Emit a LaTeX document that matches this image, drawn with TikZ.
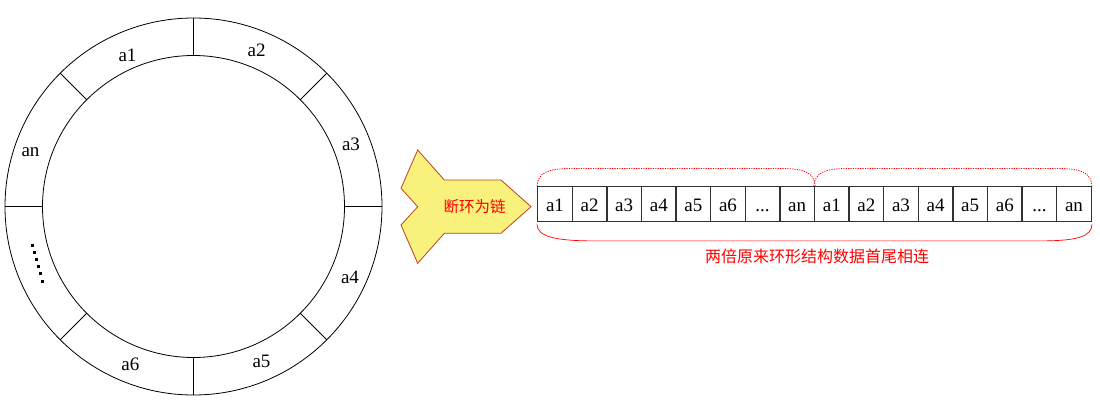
\documentclass[tikz,border=0pt]{standalone}
\usepackage{fontspec}
\usetikzlibrary{calc}
\setmainfont{Liberation Serif}
\newfontfamily\cjk{Noto Sans CJK SC}
\definecolor{arrowfill}{RGB}{248,242,125}
\definecolor{arrowline}{RGB}{192,64,30}
\definecolor{boxline}{RGB}{50,50,50}
\newcommand\celldots{...}
\begin{document}
\begin{tikzpicture}[x=1pt,y=-1pt,
  ringline/.style={draw=black,line width=0.8pt},
  lab/.style={anchor=base,inner sep=0pt,font=\fontsize{19pt}{20pt}\selectfont},
  cell/.style={draw=boxline,line width=1.3pt,minimum width=34.6pt,minimum height=35pt,
    inner sep=0pt,text height=13.6pt,text depth=0pt,font=\fontsize{19pt}{20pt}\selectfont},
  redtxt/.style={text=red,inner sep=0pt},
  dotbrace/.style={draw=red,line width=0.8pt,dash pattern=on 1.2pt off 1.2pt},
  solidbrace/.style={draw=red,line width=0.7pt}
]
\useasboundingbox (0,0) rectangle (1100,412);
% ring
\coordinate (c) at (193.5,206.5);
\draw[ringline] (c) circle[radius=188.5pt];
\draw[ringline] (c) circle[radius=151pt];
\foreach \a in {0,45,...,315}{
  \draw[ringline] ($(c)+(\a:151)$) -- ($(c)+(\a:188.5)$);
}
\node[lab] (r1) at (127.5,61.7) {a1};
\node[lab] (r2) at (256.7,56.7) {a2};
\node[lab] (r3) at (351,150.7) {a3};
\node[lab] (r4) at (350,283) {a4};
\node[lab] (r5) at (261.5,367.7) {a5};
\node[lab] (r6) at (130.3,370) {a6};
\node[lab] (rn) at (30.5,156.7) {an};
\foreach \i in {0,1,2,3,4,5}{
  \fill[black] ($(32.3,245.7)!\i/5!(42.3,281)+(-1.5,-1.5)$) rectangle ++(3,3);
}
% arrow shape
\draw[fill=arrowfill,draw=arrowline,line width=0.8pt,line join=miter]
  (417.7,150) -- (444.3,180) -- (501,180) -- (531,206.7) -- (501,233.3)
  -- (444.3,233.3) -- (417.7,263.3) -- (401,225) -- (417.7,206.7)
  -- (401,188.3) -- cycle;
\node[redtxt,font=\cjk\fontsize{15.5pt}{17pt}\selectfont] (brk) at (474.5,207) {断环为链};
% cells
\foreach \t [count=\i] in {a1,a2,a3,a4,a5,a6,\celldots,an,a1,a2,a3,a4,a5,a6,\celldots,an}{
  \node[cell] (b\i) at ({537.7+34.6*(\i-0.5)},204.2) {\t};
}
% dotted braces on top
\draw[dotbrace] (b1.north west) .. controls ($(b1.north west)+(1,-13)$) and ($(b1.north west)+(10,-17)$) .. ($(b1.north west)+(30,-17.5)$)
  -- ($(b8.north east)+(-30,-17.5)$) .. controls ($(b8.north east)+(-10,-17)$) and ($(b8.north east)+(-1,-13)$) .. (b8.north east);
\draw[dotbrace] (b9.north west) .. controls ($(b9.north west)+(1,-13)$) and ($(b9.north west)+(10,-17)$) .. ($(b9.north west)+(30,-17.5)$)
  -- ($(b16.north east)+(-30,-17.5)$) .. controls ($(b16.north east)+(-10,-17)$) and ($(b16.north east)+(-1,-13)$) .. (b16.north east);
% solid brace below
\draw[solidbrace] ($(b1.south west)+(0,2)$) .. controls ($(b1.south west)+(0,14)$) and ($(b1.south west)+(18,18)$) .. ($(b1.south west)+(50,18.5)$)
  -- ($(b16.south east)+(-45,18.5)$) .. controls ($(b16.south east)+(-15,18)$) and ($(b16.south east)+(0,14)$) .. ($(b16.south east)+(0,2)$);
\node[redtxt,font=\cjk\fontsize{16pt}{18pt}\selectfont] (cap) at (817,256) {两倍原来环形结构数据首尾相连};
\end{tikzpicture}
\end{document}
